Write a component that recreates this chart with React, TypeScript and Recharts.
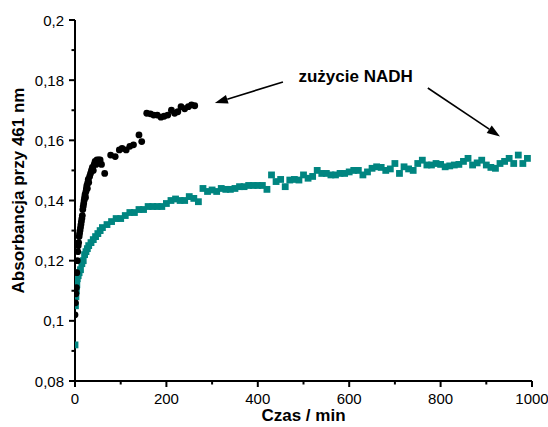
import React from 'react';
import {
  ScatterChart,
  Scatter,
  XAxis,
  YAxis,
  ReferenceLine,
  ReferenceDot,
} from 'recharts';

// ---- data ----
const blackTime = [
  0, 1, 2, 3, 4, 5, 6, 7, 8, 9, 10, 11, 12, 13, 14, 15, 16, 17, 18, 19, 20, 21, 22, 23, 24, 25, 26,
  27, 28, 29, 30, 32, 34, 36, 38, 40, 42, 44, 46, 48, 50, 52, 55, 58, 65, 78, 88, 97, 103, 112, 120,
  128, 140, 146, 157, 165, 172, 180, 188, 195, 203, 211, 218, 225, 232, 240, 248, 255, 262,
];
const blackAbs = [
  0.102, 0.106, 0.109, 0.111, 0.116, 0.12, 0.123, 0.125, 0.126, 0.128, 0.129, 0.13, 0.131, 0.132,
  0.133, 0.134, 0.135, 0.137, 0.138, 0.139, 0.14, 0.141, 0.142, 0.141, 0.143, 0.144, 0.145, 0.144,
  0.146, 0.147, 0.146, 0.148, 0.149, 0.15, 0.151, 0.15, 0.152, 0.153, 0.152, 0.1535, 0.153, 0.1535,
  0.1535, 0.152, 0.149, 0.1551, 0.1546, 0.1568, 0.1573, 0.1568, 0.158, 0.1585, 0.1618, 0.1596, 0.169,
  0.1688, 0.1684, 0.1684, 0.1677, 0.168, 0.1684, 0.17, 0.169, 0.1695, 0.1712, 0.1705, 0.1712, 0.1718,
  0.1715,
];

const tealTime = [
  0, 1, 2, 3, 4, 5, 7, 9, 12, 15, 18, 21, 24, 27, 30, 35, 40, 45, 50, 55, 60, 70, 80, 90,
  100, 110, 120, 130, 140, 150, 160, 170, 180, 190,
  200, 210, 220, 230, 240, 250, 260, 270, 280, 290,
  300, 310, 320, 330, 340, 350, 360, 370, 380, 390,
  400, 410, 420, 430, 440, 450, 460, 470, 480, 490,
  500, 510, 520, 530, 540, 550, 560, 570, 580, 590,
  600, 610, 620, 630, 640, 650, 660, 670, 680, 690,
  700, 710, 720, 730, 740, 750, 760, 770, 780, 790,
  800, 810, 820, 830, 840, 850, 860, 870, 880, 890,
  900, 910, 920, 930, 940, 950, 960, 970, 980, 990,
];
const tealAbs = [
  0.092, 0.105, 0.108, 0.11, 0.112, 0.114, 0.115, 0.116, 0.117, 0.119, 0.12, 0.122, 0.123, 0.124,
  0.125, 0.126, 0.127, 0.128, 0.129, 0.13, 0.131, 0.132, 0.133, 0.134,
  0.134, 0.135, 0.136, 0.136, 0.137, 0.137, 0.138, 0.138, 0.138, 0.138,
  0.139, 0.14, 0.1405, 0.14, 0.14, 0.1413, 0.1407, 0.1396, 0.144, 0.143,
  0.1435, 0.143, 0.144, 0.1437, 0.1437, 0.144, 0.1446, 0.1446, 0.145, 0.145,
  0.145, 0.145, 0.1437, 0.1485, 0.1463, 0.147, 0.1446, 0.1468, 0.147, 0.1468,
  0.1485, 0.1474, 0.148, 0.15, 0.149, 0.149, 0.1485, 0.1485, 0.149, 0.149,
  0.1495, 0.15, 0.15, 0.1485, 0.1495, 0.1507, 0.1512, 0.151, 0.15, 0.1505,
  0.1523, 0.149, 0.1512, 0.1505, 0.15, 0.1523, 0.1534, 0.1518, 0.1518, 0.1523,
  0.152, 0.1512, 0.1515, 0.1518, 0.152, 0.153, 0.154, 0.1518, 0.1525, 0.1534,
  0.1518, 0.151, 0.1507, 0.1523, 0.153, 0.154, 0.1523, 0.1551, 0.1523, 0.154,
];

const xTickValues = [0, 100, 200, 300, 400, 500, 600, 700, 800, 900, 1000];
const xTickLabels = ['0', '', '200', '', '400', '', '600', '', '800', '', '1000'];
const yTickValues = [0.08, 0.09, 0.1, 0.11, 0.12, 0.13, 0.14, 0.15, 0.16, 0.17, 0.18, 0.19, 0.2];
const yTickLabels = ['0,08', '', '0,1', '', '0,12', '', '0,14', '', '0,16', '', '0,18', '', '0,2'];

const xTitle = 'Czas / min';
const yTitle = 'Absorbancja przy 461 nm';
const noteText = 'zużycie NADH';
const notePos = { x: 614, y: 0.1814 };
const arrowLeft = [
  { x: 455, y: 0.1794 },
  { x: 306, y: 0.1724 },
];
const arrowRight = [
  { x: 772, y: 0.1774 },
  { x: 930, y: 0.1613 },
];

const blackData = blackTime.map((t, i) => ({ t, v: blackAbs[i] }));
const tealData = tealTime.map((t, i) => ({ t, v: tealAbs[i] }));

const FONT = '"Liberation Sans", Arial, Helvetica, sans-serif';
const TEAL = '#008580';

const findIdx = (arr: number[], v: number) => arr.findIndex((a) => Math.abs(a - v) < 1e-9);

const XTick = (props: any) => {
  const { x, y, payload } = props;
  const i = findIdx(xTickValues, payload.value);
  const label = i >= 0 ? xTickLabels[i] : '';
  const major = label !== '';
  return (
    <g>
      <line x1={x} x2={x} y1={y} y2={y + (major ? 6 : 3.5)} stroke="#000" strokeWidth={2} />
      {major && (
        <text x={x} y={y + 23} textAnchor="middle" fontSize={15} fontFamily={FONT} fill="#000">
          {label}
        </text>
      )}
    </g>
  );
};

const YTick = (props: any) => {
  const { x, y, payload } = props;
  const i = findIdx(yTickValues, payload.value);
  const label = i >= 0 ? yTickLabels[i] : '';
  const major = label !== '';
  return (
    <g>
      <line x1={x - (major ? 6 : 3.5)} x2={x} y1={y} y2={y} stroke="#000" strokeWidth={2} />
      {major && (
        <text x={x - 11} y={y + 5.5} textAnchor="end" fontSize={15} fontFamily={FONT} fill="#000">
          {label}
        </text>
      )}
    </g>
  );
};

const CircleShape = (props: any) => {
  const { cx, cy } = props;
  if (cx == null || cy == null) return null;
  return <circle cx={cx} cy={cy} r={3.4} fill="#000" />;
};

const SquareShape = (props: any) => {
  const { cx, cy } = props;
  if (cx == null || cy == null) return null;
  const s = 6.8;
  return <rect x={cx - s / 2} y={cy - s / 2} width={s} height={s} fill={TEAL} />;
};

const ArrowShape = (props: any) => {
  const { x1, y1, x2, y2 } = props;
  if ([x1, y1, x2, y2].some((v) => v == null || isNaN(v))) return null;
  const dx = x2 - x1;
  const dy = y2 - y1;
  const len = Math.sqrt(dx * dx + dy * dy);
  const ux = dx / len;
  const uy = dy / len;
  const headLen = 13;
  const headW = 4.5;
  const bx = x2 - ux * headLen;
  const by = y2 - uy * headLen;
  const px = -uy;
  const py = ux;
  return (
    <g>
      <line x1={x1} y1={y1} x2={bx} y2={by} stroke="#000" strokeWidth={1.6} />
      <polygon
        points={`${x2},${y2} ${bx + px * headW},${by + py * headW} ${bx - px * headW},${by - py * headW}`}
        fill="#000"
      />
    </g>
  );
};

const NoteShape = (props: any) => {
  const { cx, cy } = props;
  if (cx == null || cy == null) return null;
  return (
    <text
      x={cx}
      y={cy + 6}
      textAnchor="middle"
      fontSize={17}
      fontWeight="bold"
      fontFamily={FONT}
      fill="#000"
    >
      {noteText}
    </text>
  );
};

export default function App() {
  return (
    <div style={{ position: 'absolute', left: 0, top: 0, width: 548, height: 427, background: '#fff' }}>
      <ScatterChart width={548} height={427} margin={{ top: 20, right: 16, bottom: 0, left: 0 }}>
        <XAxis
          type="number"
          dataKey="t"
          domain={[0, 1000]}
          ticks={xTickValues}
          interval={0}
          tick={<XTick />}
          tickLine={false}
          tickSize={0}
          tickMargin={0}
          height={46}
          stroke="#000"
          strokeWidth={2}
          axisLine={{ stroke: '#000', strokeWidth: 2 }}
          allowDataOverflow
          label={{
            value: xTitle,
            position: 'insideBottom',
            offset: 6,
            fontSize: 17,
            fontWeight: 'bold',
            fontFamily: FONT,
            fill: '#000',
          }}
        />
        <YAxis
          type="number"
          dataKey="v"
          domain={[0.08, 0.2]}
          ticks={yTickValues}
          interval={0}
          tick={<YTick />}
          tickLine={false}
          tickSize={0}
          tickMargin={0}
          width={75}
          stroke="#000"
          strokeWidth={2}
          axisLine={{ stroke: '#000', strokeWidth: 2 }}
          allowDataOverflow
          label={{
            value: yTitle,
            position: 'insideLeft',
            angle: -90,
            offset: 18,
            dy: -10,
            fontSize: 17,
            fontWeight: 'bold',
            fontFamily: FONT,
            fill: '#000',
            style: { textAnchor: 'middle' },
          }}
        />
        <Scatter data={tealData} shape={SquareShape} isAnimationActive={false} />
        <Scatter data={blackData} shape={CircleShape} isAnimationActive={false} />
        <ReferenceLine segment={arrowLeft} shape={ArrowShape} ifOverflow="visible" />
        <ReferenceLine segment={arrowRight} shape={ArrowShape} ifOverflow="visible" />
        <ReferenceDot x={notePos.x} y={notePos.y} r={0} shape={NoteShape} ifOverflow="visible" />
      </ScatterChart>
    </div>
  );
}
